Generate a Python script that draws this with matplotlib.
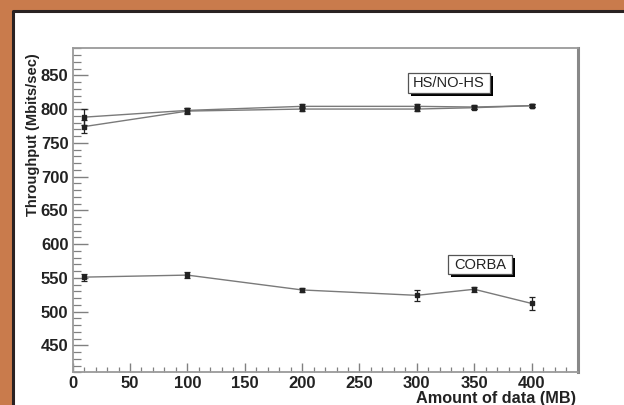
import numpy as np
import matplotlib.pyplot as plt
from matplotlib.patches import Rectangle
from matplotlib.lines import Line2D
from matplotlib.ticker import MultipleLocator

plt.rcParams['font.family'] = ['Liberation Sans', 'DejaVu Sans']

# data
size_mb = [10, 100, 200, 300, 350, 400]
hs = [788, 798, 804, 804, 803, 805]
hs_err = [12, 4, 3, 3, 3, 2]
nohs = [774, 797, 800, 800, 802, 805]
nohs_err = [10, 4, 3, 3, 2, 2]
corba = [551, 554, 532, 524, 533, 512]
corba_err = [5, 4, 3, 8, 4, 10]

W, H = 624, 405
fig = plt.figure(figsize=(W / 100, H / 100), dpi=100)
fig.patch.set_facecolor('#c97b4c')

# white panel, dark edge only on top and left
fig.patches.append(Rectangle((13 / W, 0), 1, 1 - 11 / H, transform=fig.transFigure,
                             facecolor='white', edgecolor='none', zorder=-5))
edge_x = [13 / W, 13 / W, 1.0]
edge_y = [0.0, 1 - 11 / H, 1 - 11 / H]
fig.lines.append(Line2D(edge_x, edge_y, transform=fig.transFigure,
                        color='#2a2222', linewidth=2.2, zorder=-4))

ax = fig.add_axes([72.6 / W, 1 - 372.3 / H, (577.5 - 72.6) / W, (372.3 - 48.3) / H])
ax.set_zorder(2)
ax.set_facecolor('white')

line_col = '#7a7a7a'
for y, e in [(hs, hs_err), (nohs, nohs_err), (corba, corba_err)]:
    ax.plot(size_mb, y, color=line_col, linewidth=1.0, zorder=2)
    ax.errorbar(size_mb, y, yerr=e, fmt='s', color='#222222', markersize=2.5,
                elinewidth=0.9, capsize=2, capthick=0.9, zorder=3)

ax.set_xlim(0, 440)
ax.set_ylim(410, 890)
ax.xaxis.set_major_locator(MultipleLocator(50))
ax.xaxis.set_minor_locator(MultipleLocator(10))
ax.yaxis.set_major_locator(MultipleLocator(50))
ax.yaxis.set_minor_locator(MultipleLocator(10))
ax.set_yticks(np.arange(450, 851, 50))
ax.set_xticks(np.arange(0, 401, 50))

tick_col = '#808080'
ax.tick_params(axis='both', which='both', direction='in', color=tick_col,
               labelsize=12, labelcolor='#222222')
ax.tick_params(axis='y', which='major', length=11, width=1.0, pad=3)
ax.tick_params(axis='y', which='minor', length=6, width=0.9)
ax.tick_params(axis='x', which='major', length=6.5, width=1.0, pad=3)
ax.tick_params(axis='x', which='minor', length=3.5, width=0.9)
for lab in ax.get_xticklabels() + ax.get_yticklabels():
    lab.set_fontweight('bold')

for side in ['left', 'bottom', 'top']:
    ax.spines[side].set_color('#9a9a9a')
    ax.spines[side].set_linewidth(1.3)
ax.spines['right'].set_color('#888888')
ax.spines['right'].set_linewidth(2.2)

fig.text(33 / W, 1 - 53 / H, 'Throughput (Mbits/sec)', rotation=90,
         ha='center', va='top', fontsize=10.5, fontweight='bold', color='#222222')
fig.text(576 / W, 1 - 398 / H, 'Amount of data (MB)', ha='right', va='center',
         fontsize=11.7, fontweight='bold', color='#222222')

# ROOT-style labels with shadow
def label_box(x0, x1, y0, y1, text):
    dx, dy = 2.6, 4.4
    ax.add_patch(Rectangle((x0 + dx, y0 - dy), x1 - x0, y1 - y0, facecolor='black',
                           edgecolor='none', zorder=4))
    ax.add_patch(Rectangle((x0, y0), x1 - x0, y1 - y0, facecolor='white',
                           edgecolor='#555555', linewidth=0.9, zorder=5))
    ax.text((x0 + x1) / 2, (y0 + y1) / 2, text, ha='center', va='center',
            fontsize=10.5, color='#222222', zorder=6)

label_box(292, 364, 824, 853.5, 'HS/NO-HS')
label_box(327, 383, 555, 583.6, 'CORBA')

fig.savefig('out.png', dpi=100, facecolor=fig.get_facecolor())
